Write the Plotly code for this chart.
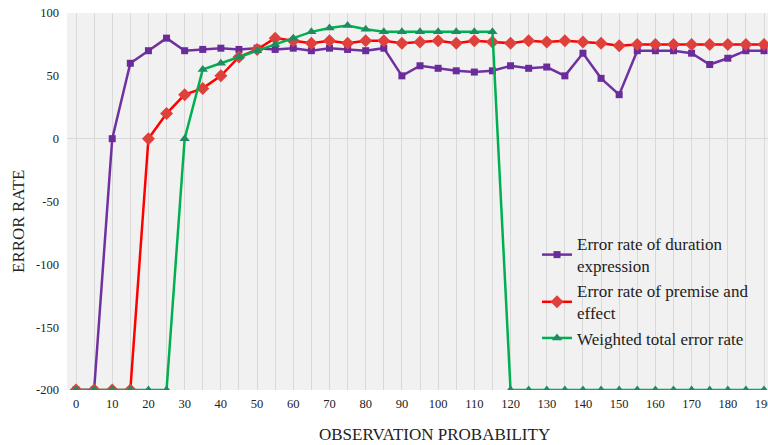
import plotly.graph_objects as go

x_vals = list(range(0, 195, 5))

duration_err = [-200, -200, 0, 60, 70, 80, 70, 71, 72, 71, 72, 71, 72, 70, 72, 71, 70, 72,
                50, 58, 56, 54, 53, 54, 58, 56, 57, 50, 68, 48, 35, 70, 70, 70, 68, 59, 64, 70, 70]
premise_err = [-200, -200, -200, -200, 0, 20, 35, 40, 50, 65, 71, 80, 78, 76, 78, 76, 78, 78,
               76, 77, 78, 76, 78, 77, 76, 78, 77, 78, 77, 76, 74, 75, 75, 75, 75, 75, 75, 75, 75]
weighted_err = [-200, -200, -200, -200, -200, -200, 0, 55, 60, 65, 70, 75, 80, 85, 88, 90, 87, 85,
                85, 85, 85, 85, 85, 85, -200, -200, -200, -200, -200, -200, -200, -200, -200, -200,
                -200, -200, -200, -200, -200]

series_names = ["Error rate of duration<br>expression",
                "Error rate of premise and<br>effect",
                "Weighted total error rate"]

y_tick_vals = [-200, -150, -100, -50, 0, 50, 100]
y_tick_text = ["-200", "-150", "-100", "-50", "0", "50", "100"]

x_title = "OBSERVATION PROBABILITY"
y_title = "ERROR RATE"

serif = "Liberation Serif, Times New Roman, serif"
txt = "#222222"

fig = go.Figure()
fig.add_trace(go.Scatter(
    x=x_vals, y=duration_err, name=series_names[0], mode="lines+markers",
    line=dict(color="#7030A0", width=2.5),
    marker=dict(symbol="square", size=7, color="#6A2C9A", line=dict(width=0))))
fig.add_trace(go.Scatter(
    x=x_vals, y=premise_err, name=series_names[1], mode="lines+markers",
    line=dict(color="#FF0000", width=2.5),
    marker=dict(symbol="diamond", size=10, color="#E0403C", line=dict(width=0))))
fig.add_trace(go.Scatter(
    x=x_vals, y=weighted_err, name=series_names[2], mode="lines+markers",
    line=dict(color="#00B050", width=2.5),
    marker=dict(symbol="triangle-up", size=9, color="#1E8C62", line=dict(width=0))))

fig.update_layout(
    width=768, height=445,
    margin=dict(l=67, r=0, t=13, b=55, autoexpand=False),
    paper_bgcolor="white",
    plot_bgcolor="#F1F1F1",
    font=dict(family=serif, size=12, color=txt),
    showlegend=True,
    legend=dict(
        x=0.6705, y=0.435, xanchor="left", yanchor="top",
        bgcolor="rgba(0,0,0,0)", font=dict(family=serif, size=17, color=txt),
        itemwidth=30,
    ),
    xaxis=dict(
        range=[-2.49, 191.1], tickmode="linear", tick0=0, dtick=10,
        showgrid=True, gridcolor="#D9D9D9", gridwidth=1,
        minor=dict(dtick=5, showgrid=True, gridcolor="#D9D9D9"),
        zeroline=False, showline=False, ticks="", ticklabelstandoff=4,
        ticklabeloverflow="allow", automargin=False,
        tickfont=dict(family=serif, size=12.5, color=txt),
    ),
    yaxis=dict(
        range=[-200, 100], tickmode="array", tickvals=y_tick_vals, ticktext=y_tick_text,
        showgrid=False, zeroline=True, zerolinecolor="#D9D9D9", zerolinewidth=1,
        showline=False, ticks="", ticklabelstandoff=7, automargin=False,
        tickfont=dict(family=serif, size=12.5, color=txt),
    ),
    annotations=[
        dict(text=x_title, xref="paper", yref="paper", x=0.524, y=-0.119,
             xanchor="center", yanchor="middle", showarrow=False,
             font=dict(family=serif, size=17, color=txt)),
        dict(text=y_title, xref="paper", yref="paper", x=-0.0699, y=0.4456,
             xanchor="center", yanchor="middle", showarrow=False, textangle=-90,
             font=dict(family=serif, size=17, color=txt)),
    ],
)

fig.write_html("out.html", config={"displayModeBar": False},
               post_script="document.body.style.margin='0';")
